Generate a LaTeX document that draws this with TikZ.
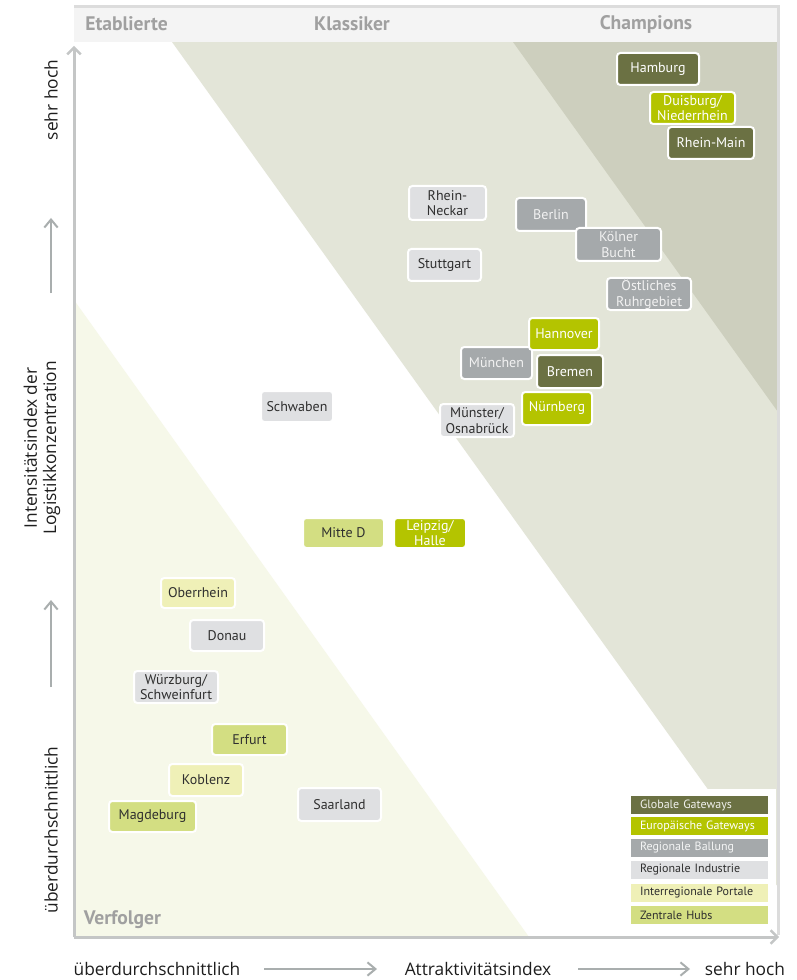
\documentclass[tikz,border=0pt]{standalone}
\usepackage{fontspec}
\setmainfont{PT Sans}
\newfontfamily\axfont{Open Sans}
\usetikzlibrary{arrows.meta}
\definecolor{cHead}{HTML}{F4F4F4}
\definecolor{cHeadTxt}{HTML}{A0A0A0}
\definecolor{cMed}{HTML}{E3E5D8}
\definecolor{cDark}{HTML}{CDCFBE}
\definecolor{cVerf}{HTML}{F6F8E9}
\definecolor{cGlob}{HTML}{6B7143}
\definecolor{cEuro}{HTML}{B4C400}
\definecolor{cBall}{HTML}{A5A9AB}
\definecolor{cInd}{HTML}{DFE0E2}
\definecolor{cPort}{HTML}{EFF0B7}
\definecolor{cHub}{HTML}{D3DE82}
\definecolor{cTxt}{HTML}{2F2F2F}
\definecolor{cFrame}{HTML}{C4C6C6}
\definecolor{cFrameL}{HTML}{DCDCDC}
\definecolor{cArr}{HTML}{A9AEAE}
\definecolor{cAxTxt}{HTML}{1E1E1E}
\tikzset{
  cb/.style={draw=white, line width=1.5pt, rounded corners=2.5pt, inner sep=0pt,
    align=center, font=\fontsize{10.5}{11.8}\selectfont},
  glob/.style={fill=cGlob, text=white},
  euro/.style={fill=cEuro, text=white},
  ball/.style={fill=cBall, text=white!95!black},
  ind/.style={fill=cInd, text=cTxt},
  port/.style={fill=cPort, text=cTxt},
  hub/.style={fill=cHub, text=cTxt},
  lg/.style={minimum width=102.75pt, minimum height=13.5pt, inner ysep=0pt,
    inner xsep=6.75pt, text width=89.25pt, align=left, font=\fontsize{9}{10}\selectfont},
  headtxt/.style={font=\fontsize{14.7}{16}\bfseries\selectfont, text=cHeadTxt, inner sep=0pt},
  axtxt/.style={font=\axfont\fontsize{13}{14}\selectfont, text=cAxTxt, inner sep=0pt},
  smallarrow/.style={draw=cArr, line width=1.5pt, -{Straight Barb[length=6pt, width=10pt, line width=1.5pt]}},
  axisline/.style={draw=cFrame, line width=2.25pt, -{Straight Barb[length=5pt, width=10pt, line width=1.8pt]}}
}
\newcommand\rb[7]{\node[cb,#2,minimum width=#5*0.75pt-1.5pt,minimum height=#6*0.75pt-1.5pt] (#1) at (#3,#4) {#7};}
\begin{document}
\begin{tikzpicture}[x=0.75pt,y=-0.75pt]
\useasboundingbox (0,0) rectangle (796,980);
\fill[white] (0,0) rectangle (796,980);
% bands
\fill[cMed] (172,42) -- (778,42) -- (778,887) -- cycle;
\fill[cDark] (513,42) -- (778,42) -- (778,412) -- cycle;
\fill[cVerf] (74,300) -- (529,937) -- (74,937) -- cycle;
\fill[cHead] (74,7) rectangle (778,42);
% legend background
\fill[white] (625,789) rectangle (776,929);
% frame
\coordinate (TL) at (74,7);
\coordinate (TR) at (778,7);
\coordinate (BR) at (778,935);
\coordinate (O) at (74,937);
\coordinate (ytop) at (74,46);
\coordinate (xend) at (779,937);
\draw[cFrameL, line width=2.25pt] (TL) -- (TR) -- (BR);
\draw[axisline] (O) -- (ytop);
\draw[axisline] (O) -- (xend);
% header
\node[headtxt] (hEt) at (126.5,24) {Etablierte};
\node[headtxt] (hKl) at (352,24) {Klassiker};
\node[headtxt] (hCh) at (646,24) {Champions};
\node[headtxt] (hVf) at (122.5,920) {Verfolger};
% region boxes
\rb{hamburg}{glob}{658}{69}{84}{34}{Hamburg}
\rb{duisburg}{euro}{692.5}{108}{87}{34}{Duisburg/\\Niederrhein}
\rb{rheinmain}{glob}{711}{143}{88}{34}{Rhein-Main}
\rb{rheinneckar}{ind}{447.5}{203}{79}{36}{Rhein-\\Neckar}
\rb{berlin}{ball}{551}{214.5}{72}{35}{Berlin}
\rb{koeln}{ball}{618.5}{244.5}{87}{35}{Kölner\\Bucht}
\rb{stuttgart}{ind}{444.5}{265}{75}{34}{Stuttgart}
\rb{ruhr}{ball}{649}{294}{86}{34}{Östliches\\Ruhrgebiet}
\rb{muenchen}{ball}{496.5}{363}{73}{34}{München}
\rb{hannover}{euro}{564}{334}{72}{34}{Hannover}
\rb{bremen}{glob}{570}{371.5}{68}{35}{Bremen}
\rb{nuernberg}{euro}{557}{408.5}{72}{35}{Nürnberg}
\rb{muenster}{ind}{477}{420.5}{76}{35}{Münster/\\Osnabrück}
\rb{schwaben}{ind}{297}{406.5}{74}{33}{Schwaben}
\rb{mitte}{hub}{343.5}{533}{83}{32}{Mitte D}
\rb{leipzig}{euro}{430}{533}{74}{32}{Leipzig/\\Halle}
\rb{oberrhein}{port}{198}{593}{76}{32}{Oberrhein}
\rb{donau}{ind}{227}{635.5}{76}{33}{Donau}
\rb{wuerzburg}{ind}{176}{687}{86}{34}{Würzburg/\\Schweinfurt}
\rb{erfurt}{hub}{249.5}{739.5}{77}{33}{Erfurt}
\rb{koblenz}{port}{206}{780}{76}{34}{Koblenz}
\rb{magdeburg}{hub}{152.5}{816.5}{89}{33}{Magdeburg}
\rb{saarland}{ind}{339.5}{804.5}{85}{35}{Saarland}
% legend
\node[lg, fill=cGlob, text=white!90!cGlob] (lg1) at (699.5,805) {Globale Gateways};
\node[lg, fill=cEuro, text=white] (lg2) at (699.5,826) {Europäische Gateways};
\node[lg, fill=cBall, text=white!88!cBall] (lg3) at (699.5,847.5) {Regionale Ballung};
\node[lg, fill=cInd, text=cTxt] (lg4) at (699.5,870) {Regionale Industrie};
\node[lg, fill=cPort, text=cTxt] (lg5) at (699.5,892.5) {Interregionale Portale};
\node[lg, fill=cHub, text=cTxt] (lg6) at (699.5,915) {Zentrale Hubs};
% left axis labels
\node[axtxt, rotate=90] (ySehr) at (51,100) {sehr hoch};
\coordinate (ya1s) at (51,293);
\coordinate (ya1e) at (51,218);
\draw[smallarrow] (ya1s) -- (ya1e);
\node[axtxt, rotate=90, align=center, font=\axfont\fontsize{13}{14.5}\selectfont] (yTitle) at (42,448) {Intensitätsindex der\\Logistikkonzentration};
\coordinate (ya2s) at (51,687);
\coordinate (ya2e) at (51,600);
\draw[smallarrow] (ya2s) -- (ya2e);
\node[axtxt, rotate=90] (yUeber) at (51,830) {überdurchschnittlich};
% bottom axis labels
\node[axtxt] (xUeber) at (157,969) {überdurchschnittlich};
\coordinate (xa1s) at (264,969);
\coordinate (xa1e) at (377,969);
\draw[smallarrow] (xa1s) -- (xa1e);
\node[axtxt] (xTitle) at (478,969) {Attraktivitätsindex};
\coordinate (xa2s) at (578,969);
\coordinate (xa2e) at (690,969);
\draw[smallarrow] (xa2s) -- (xa2e);
\node[axtxt] (xSehr) at (745,969) {sehr hoch};
\end{tikzpicture}
\end{document}
